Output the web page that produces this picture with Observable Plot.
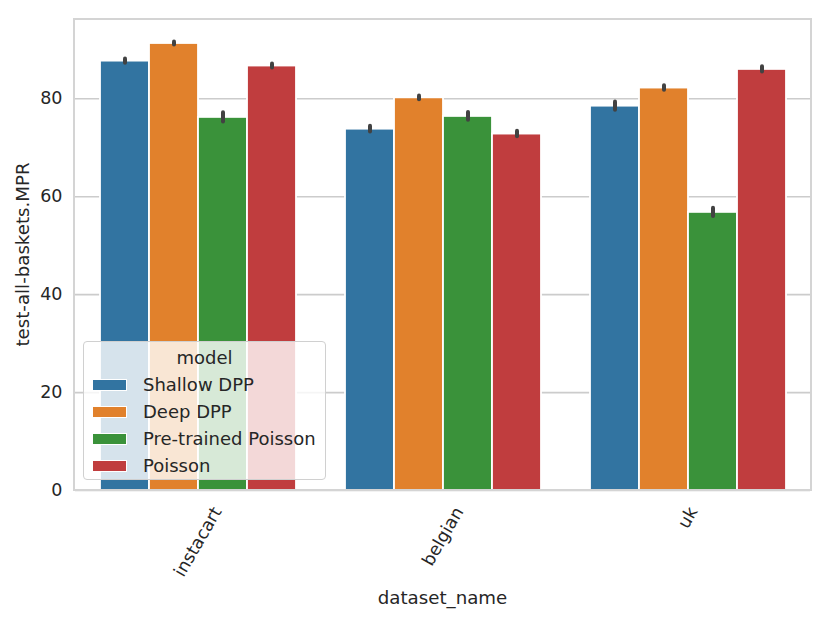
<!DOCTYPE html>
<html>
<head>
<meta charset="utf-8">
<script src="https://cdn.jsdelivr.net/npm/d3@7"></script>
<script src="https://cdn.jsdelivr.net/npm/@observablehq/plot@0.6"></script>
<style>
  html, body { margin: 0; padding: 0; background: #fff; }
  #wrap { position: relative; width: 831px; height: 620px; font-family: "DejaVu Sans", sans-serif; color: #262626; }
  #legend {
    position: absolute; left: 83px; top: 341px; width: 241px; height: 137px;
    background: rgba(255,255,255,0.8); border: 1px solid #d0d0d0; border-radius: 4px;
    font-size: 18px; box-sizing: content-box;
  }
  #legend .title { text-align: center; height: 27px; line-height: 27px; margin-top: 2px; }
  #legend .row { display: flex; align-items: center; height: 27px; padding-left: 8px; }
  #legend .sw { width: 35px; height: 12px; margin-right: 16px; box-sizing: border-box; border: 1px solid #fff; }
</style>
</head>
<body>
<div id="wrap"></div>
<script>
// ---- data ----
const datasets = ["instacart", "belgian", "uk"];
const models = ["Shallow DPP", "Deep DPP", "Pre-trained Poisson", "Poisson"];
const colors = ["#3274a1", "#e1812c", "#3a923a", "#c03d3e"];
// mean MPR per dataset (instacart, belgian, uk)
const shallowDPP = [87.7, 73.8, 78.5];
const deepDPP = [91.3, 80.2, 82.2];
const pretrainedPoisson = [76.2, 76.4, 56.8];
const poisson = [86.7, 72.8, 86.0];
// half-width of 95% CI
const shallowDPPErr = [0.43, 0.59, 0.84];
const deepDPPErr = [0.29, 0.39, 0.46];
const pretrainedPoissonErr = [0.94, 0.80, 0.84];
const poissonErr = [0.43, 0.56, 0.53];
const yTicks = [0, 20, 40, 60, 80];
const yLabel = "test-all-baskets.MPR";
const xLabel = "dataset_name";
const legendTitle = "model";

const seriesValues = [shallowDPP, deepDPP, pretrainedPoisson, poisson];
const seriesErrs = [shallowDPPErr, deepDPPErr, pretrainedPoissonErr, poissonErr];
const rows = [];
datasets.forEach((ds, i) => models.forEach((m, j) => rows.push({
  dataset: ds, model: m, value: seriesValues[j][i], err: seriesErrs[j][i]
})));

const W = 831, H = 620, mL = 74, mR = 20, mT = 19, mB = 130;

const chart = Plot.plot({
  width: W, height: H,
  marginLeft: mL, marginRight: mR, marginTop: mT, marginBottom: mB,
  style: { fontFamily: "DejaVu Sans, sans-serif", fontSize: "17.5px", color: "#262626", background: "white" },
  fx: { domain: datasets, padding: 0, label: null },
  x: { domain: models, paddingInner: 0, paddingOuter: 0.5, axis: null },
  y: { domain: [0, 96.2], label: null },
  color: { domain: models, range: colors },
  marks: [
    Plot.gridY(yTicks, { stroke: "#cccccc", strokeOpacity: 1, strokeWidth: 1.6 }),
    Plot.barY(rows, { fx: "dataset", x: "model", y: "value", fill: "model", stroke: "white", strokeWidth: 1.8, insetLeft: 0, insetRight: 0 }),
    Plot.ruleX(rows, { fx: "dataset", x: "model", y1: d => d.value - d.err, y2: d => d.value + d.err, stroke: "#424242", strokeWidth: 4, strokeLinecap: "round" }),
    Plot.axisY(yTicks, { tickSize: 0, tickPadding: 13, fontSize: 17.5, label: null }),
    Plot.axisFx({ anchor: "bottom", tickSize: 0, tickPadding: 0, tickRotate: -60, textAnchor: "middle", lineAnchor: "middle", fontSize: 17.5, label: null })
  ]
});

const wrap = document.getElementById("wrap");
wrap.appendChild(chart);

const svg = d3.select(chart);
// reposition rotated x tick labels (matplotlib style: rotated bbox top-aligned, centered)
svg.selectAll('g[aria-label="fx-axis tick label"] text').each(function() {
  const w = this.getComputedTextLength();
  const t = this.getAttribute("transform") || "";
  this.setAttribute("transform", `translate(0,${18 + 0.433 * w}) ` + t);
});
// outer frame
svg.append("rect")
  .attr("x", mL).attr("y", mT)
  .attr("width", W - mL - mR).attr("height", H - mT - mB)
  .attr("fill", "none").attr("stroke", "#d4d4d4").attr("stroke-width", 2);
// axis labels
svg.append("text")
  .attr("transform", `translate(22,${(mT + H - mB) / 2}) rotate(-90)`)
  .attr("text-anchor", "middle").attr("dominant-baseline", "central")
  .attr("font-size", 18.2).attr("fill", "#262626").text(yLabel);
svg.append("text")
  .attr("x", (mL + W - mR) / 2).attr("y", 597)
  .attr("text-anchor", "middle").attr("dominant-baseline", "central")
  .attr("font-size", 18.2).attr("fill", "#262626").text(xLabel);

// legend
const lg = d3.select(wrap).append("div").attr("id", "legend");
lg.append("div").attr("class", "title").text(legendTitle);
models.forEach((m, i) => {
  const r = lg.append("div").attr("class", "row");
  r.append("div").attr("class", "sw").style("background", colors[i]);
  r.append("div").text(m);
});
</script>
</body>
</html>
